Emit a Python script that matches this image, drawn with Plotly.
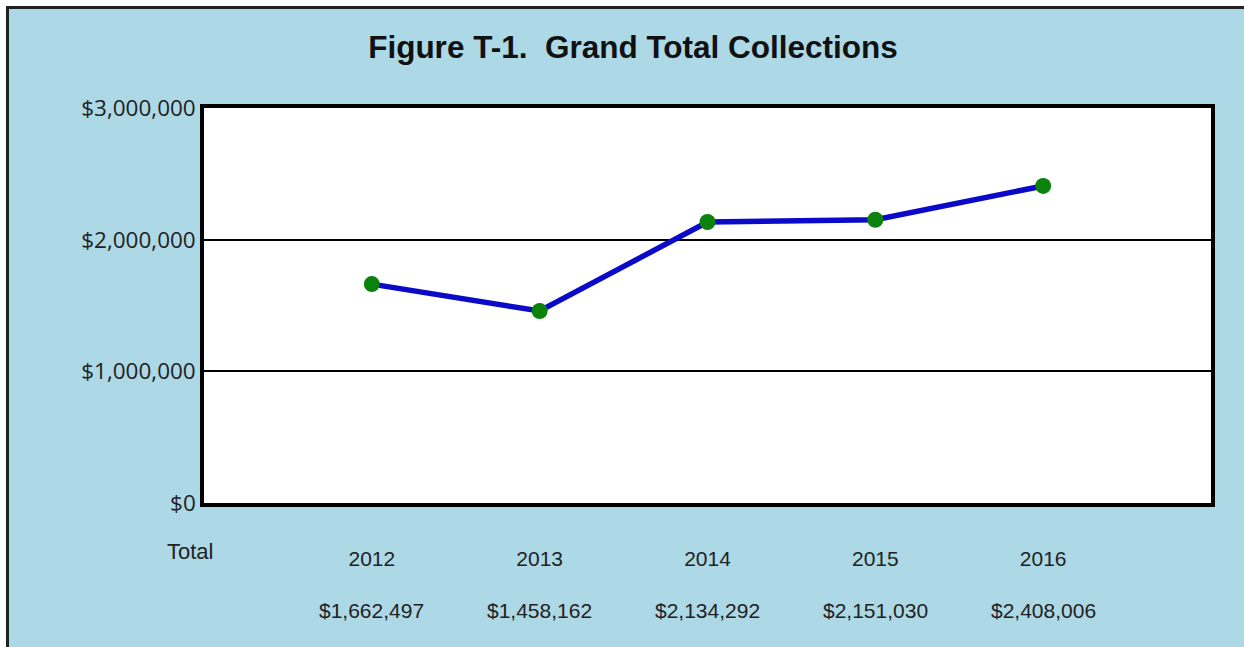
import plotly.graph_objects as go

years = ["2012", "2013", "2014", "2015", "2016"]
totals = [1662497, 1458162, 2134292, 2151030, 2408006]
total_labels = ["$1,662,497", "$1,458,162", "$2,134,292", "$2,151,030", "$2,408,006"]
y_ticks = [0, 1000000, 2000000, 3000000]
y_tick_labels = ["$0", "$1,000,000", "$2,000,000", "$3,000,000"]

W, H = 1244, 647
L, R, T, B = 204, 33, 108, 144
pw, ph = W - L - R, H - T - B

def px_x(x):
    return (x - L) / pw

def px_y(y):
    return (H - B - y) / ph

fig = go.Figure()
fig.add_trace(go.Scatter(
    x=years, y=totals, mode="lines+markers",
    line=dict(color="#0a0ac8", width=5.5),
    marker=dict(color="#0b820b", size=16),
    hoverinfo="skip", showlegend=False,
))

annotations = []
for i, lab in enumerate(total_labels):
    annotations.append(dict(x=i, y=px_y(610), xref="x", yref="paper", text=lab,
                            xanchor="center", yanchor="middle",
                            showarrow=False, font=dict(family="Liberation Sans, Arial", size=21, color="#222")))
annotations.append(dict(x=px_x(190), y=px_y(551), xref="paper", yref="paper", text="Total",
                        xanchor="center", yanchor="middle",
                        showarrow=False, font=dict(family="Liberation Sans, Arial", size=22, color="#222")))

shapes = [
    # white strips outside the dark frame
    dict(type="rect", xref="paper", yref="paper", x0=px_x(-10), x1=px_x(6), y0=px_y(660), y1=px_y(-10),
         fillcolor="white", line=dict(width=0), layer="below"),
    dict(type="rect", xref="paper", yref="paper", x0=px_x(-10), x1=px_x(1260), y0=px_y(6), y1=px_y(-10),
         fillcolor="white", line=dict(width=0), layer="below"),
    dict(type="line", xref="paper", yref="paper", x0=px_x(7.5), x1=px_x(7.5), y0=px_y(660), y1=px_y(6),
         line=dict(color="#222", width=3), layer="below"),
    dict(type="line", xref="paper", yref="paper", x0=px_x(6), x1=px_x(1260), y0=px_y(7.5), y1=px_y(7.5),
         line=dict(color="#222", width=3), layer="below"),
]

fig.update_layout(
    width=W, height=H,
    margin=dict(l=L, r=R, t=T, b=B),
    paper_bgcolor="#add8e6",
    plot_bgcolor="white",
    title=dict(text="<b>Figure T-1.\u00a0\u00a0Grand Total Collections</b>",
               x=633 / W, xanchor="center", xref="container",
               y=1 - 47 / H, yanchor="middle", yref="container",
               font=dict(family="Liberation Sans, Arial", size=31.5, color="#111")),
    xaxis=dict(type="category", range=[-1, 5], showgrid=False, zeroline=False,
               showline=True, mirror=True, linecolor="black", linewidth=3.5,
               ticks="", tickfont=dict(family="Liberation Sans, Arial", size=21, color="#222"),
               ticklabelstandoff=34),
    yaxis=dict(range=[0, 3000000], tickvals=y_ticks, ticktext=y_tick_labels,
               showgrid=True, gridcolor="black", gridwidth=1.5, zeroline=False,
               showline=True, mirror=True, linecolor="black", linewidth=3.5,
               ticks="", tickfont=dict(family="Open Sans", size=22.5, color="#222")),
    annotations=annotations,
    shapes=shapes,
)

fig.write_html("out.html", config={"displayModeBar": False},
               post_script="document.body.style.margin='0';document.body.style.overflow='hidden';")
